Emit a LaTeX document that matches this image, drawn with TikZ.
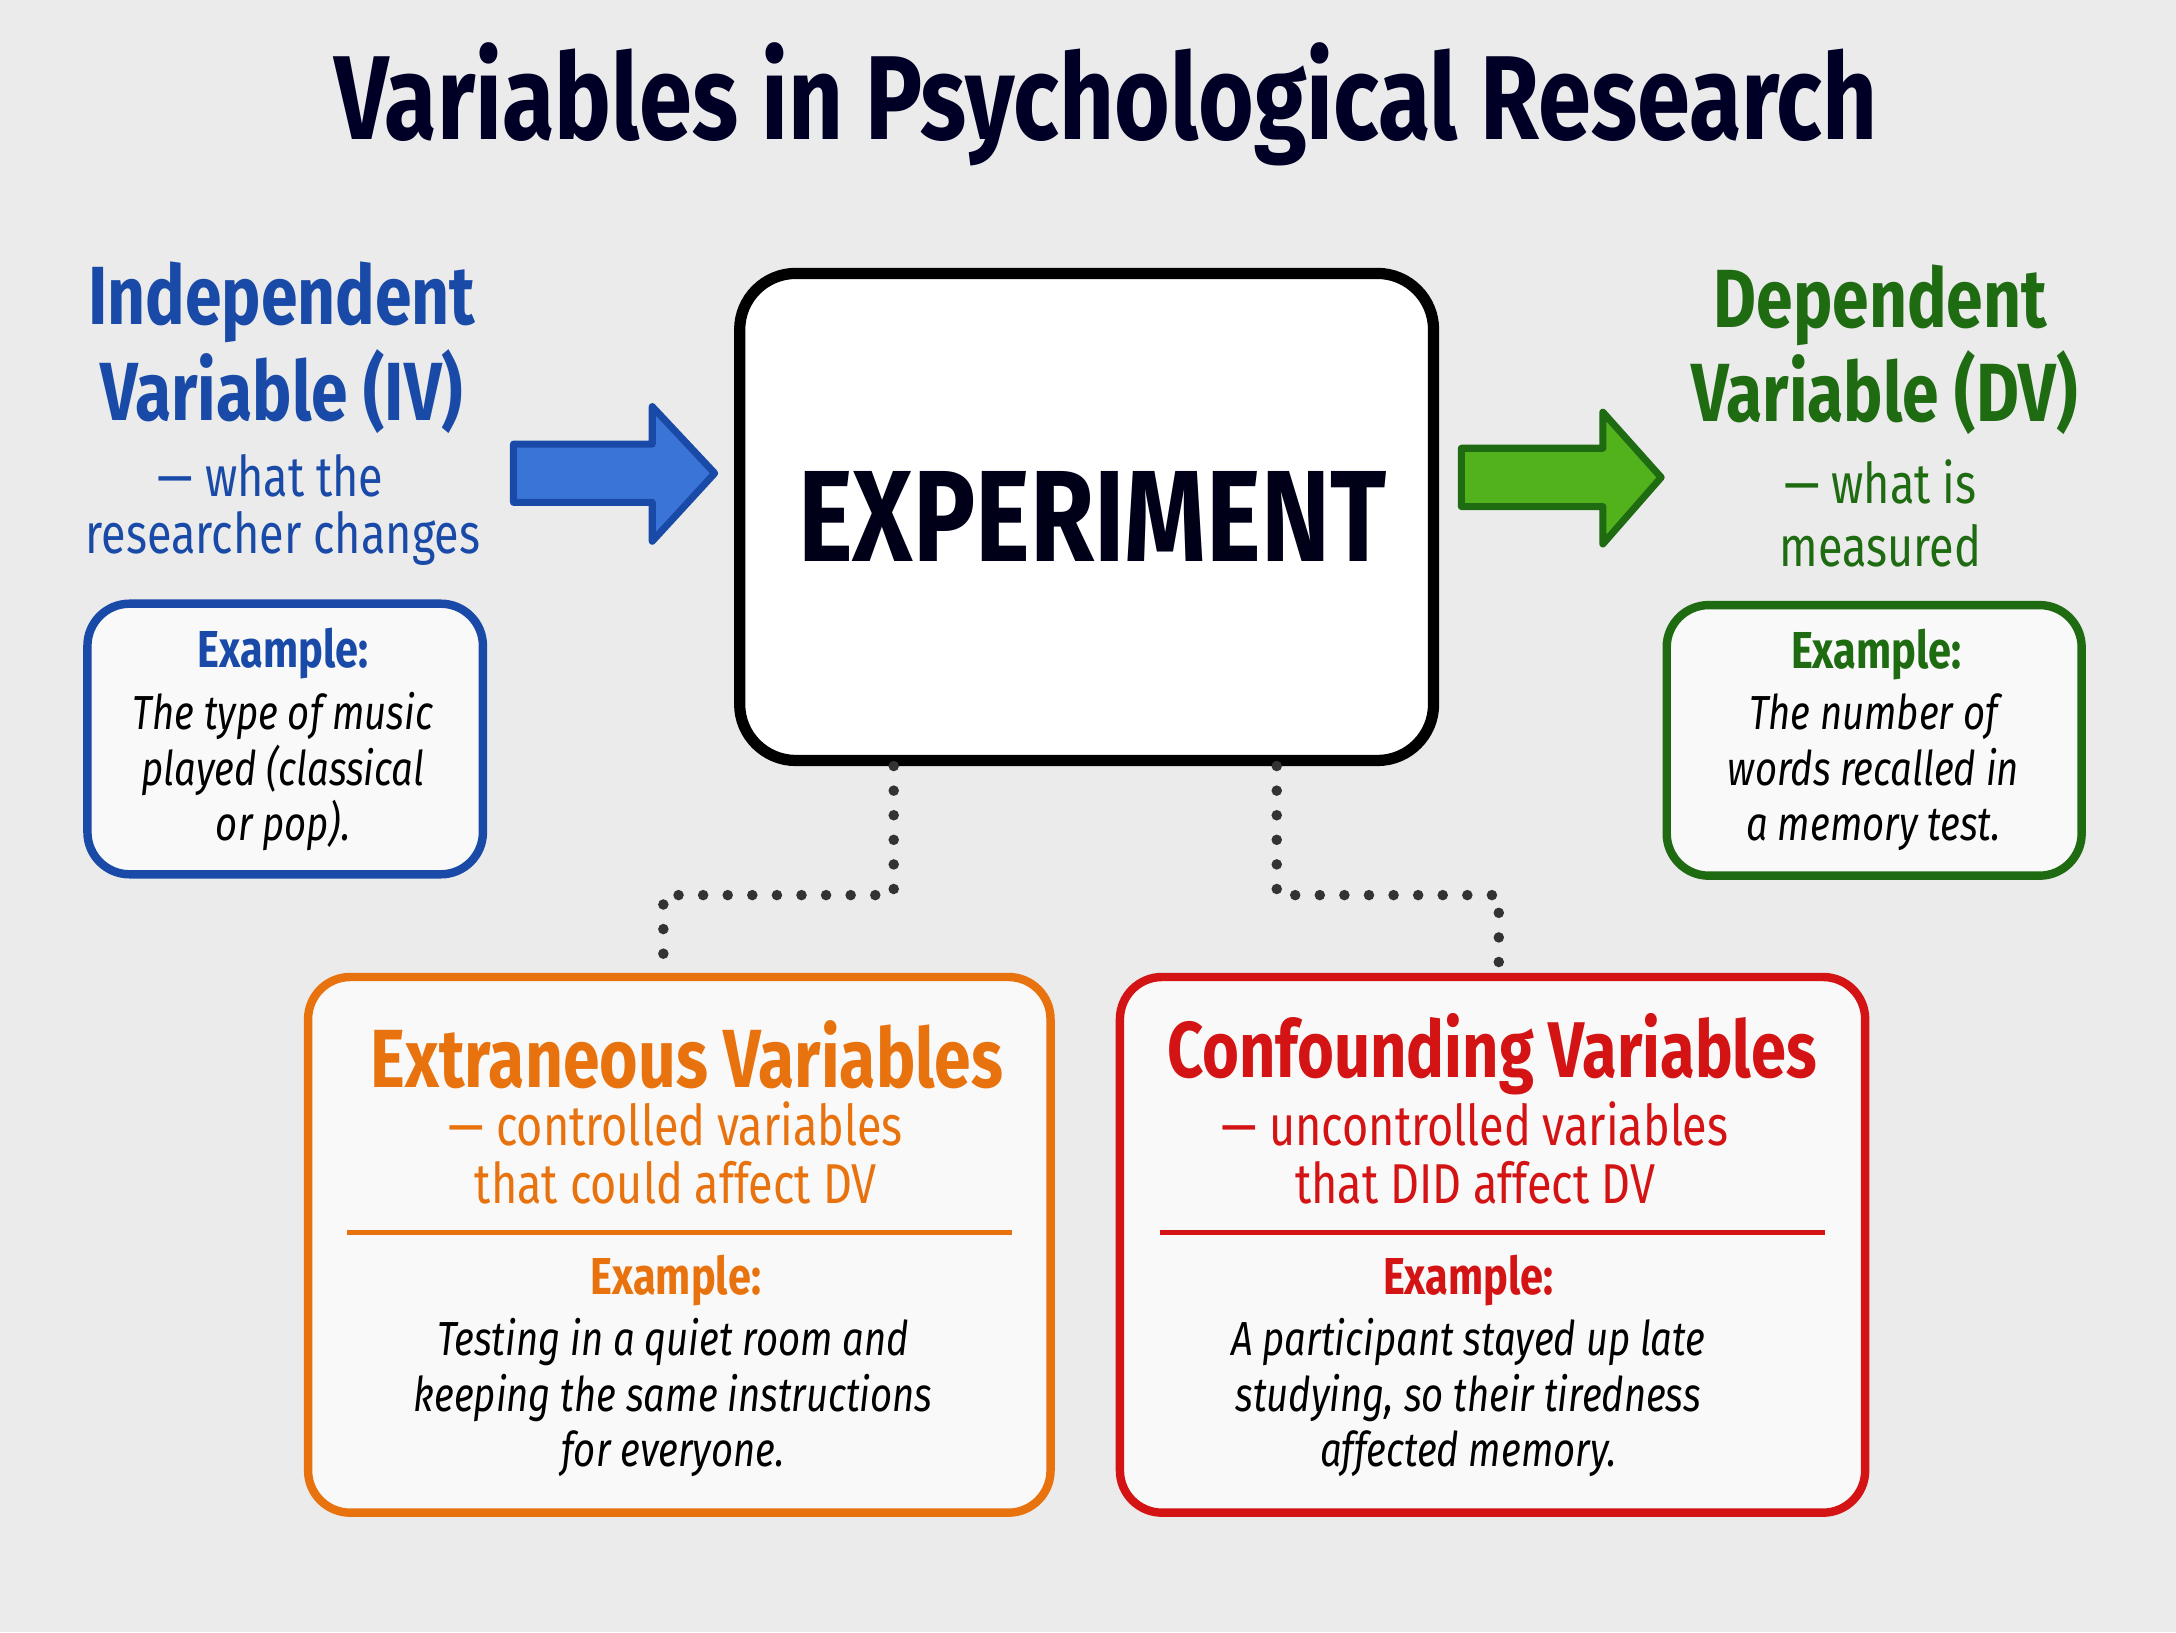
\documentclass[tikz,border=0pt]{standalone}
\usepackage{fontspec}
\setmainfont{Fira Sans}[FakeStretch=0.8]
\usetikzlibrary{positioning}
\definecolor{ivblue}{HTML}{1A4AA8}
\definecolor{ivfill}{HTML}{3A74D6}
\definecolor{dvgreen}{HTML}{1E6B12}
\definecolor{dvfill}{HTML}{52B21C}
\definecolor{evorange}{HTML}{E8730E}
\definecolor{cvred}{HTML}{D41414}
\definecolor{bg}{HTML}{EBEBEB}
\tikzset{
  card/.style={draw=#1, line width=2.4pt, rounded corners=12pt, fill=white!70!bg},
  head/.style={font=\fontsize{23.5}{26}\selectfont\bfseries, text=#1},
  sub/.style={font=\fontsize{16}{16.5}\selectfont, text=#1},
  exlab/.style={font=\fontsize{14.8}{17}\selectfont\bfseries, text=#1},
  extext/.style={font=\fontsize{13.6}{15.8}\selectfont\itshape, align=center},
  link/.style={line width=3pt, dash pattern=on 0pt off 7pt, line cap=round, black!80}
}
\begin{document}
\begin{tikzpicture}[x=0.01388cm, y=-0.01388cm]
  \fill[bg] (0,0) rectangle (1568,1176);
  \useasboundingbox (0,0) rectangle (1568,1176);
  \node[font=\fontsize{34}{38}\selectfont\bfseries, text=black!85!blue] (title) at (797,75) {Variables in Psychological Research};
  % central box
  \draw[line width=3.2pt, rounded corners=16pt, fill=white] (533,197) rectangle (1033,548);
  \node[font=\fontsize{37}{40}\selectfont\bfseries, text=black!90!blue] (exp) at (787,372) {EXPERIMENT};
  \coordinate (expL) at (644,552);
  \coordinate (expR) at (920,552);
  % independent variable
  \node[head=ivblue] (iv1) at (203,218) {Independent};
  \node[head=ivblue] (iv2) at (203,282) {Variable (IV)};
  \node[sub=ivblue] (iv3) at (195,343) {— what the};
  \node[sub=ivblue] (iv4) at (204,388) {researcher changes};
  \draw[card=ivblue] (63,435) rectangle (348,630);
  \node[exlab=ivblue] (ivex) at (204,471) {Example:};
  \node[extext, anchor=north] (ivtxt) at (204,490) {The type of music\\played (classical\\or pop).};
  \draw[ivblue, fill=ivfill, line width=2pt, line join=round]
    (370,320) -- (470,320) -- (470,293) -- (515,341) -- (470,390) -- (470,362) -- (370,362) -- cycle;
  % dependent variable
  \node[head=dvgreen] (dv1) at (1355,220) {Dependent};
  \node[head=dvgreen] (dv2) at (1358,283) {Variable (DV)};
  \node[sub=dvgreen] (dv3) at (1355,347) {— what is};
  \node[sub=dvgreen] (dv4) at (1355,393) {measured};
  \draw[card=dvgreen] (1201,436) rectangle (1500,631);
  \node[exlab=dvgreen] (dvex) at (1352,472) {Example:};
  \node[extext, anchor=north] (dvtxt) at (1350,491) {The number of\\words recalled in\\a memory test.};
  \draw[dvgreen, fill=dvfill, line width=2pt, line join=round]
    (1053,323) -- (1155,323) -- (1155,297) -- (1197,344) -- (1155,392) -- (1155,365) -- (1053,365) -- cycle;
  % extraneous variables
  \draw[card=evorange] (222,704) rectangle (757,1090);
  \node[head=evorange] (ev1) at (495,760) {Extraneous Variables};
  \node[sub=evorange, align=center] (ev2) at (487,831) {— controlled variables\\that could affect DV};
  \draw[evorange, line width=1.6pt] (250,888) -- (729,888);
  \node[exlab=evorange] (evex) at (487,923) {Example:};
  \node[extext, anchor=north] (evtxt) at (485,941) {Testing in a quiet room and\\keeping the same instructions\\for everyone.};
  \coordinate (evtop) at (478,697);
  % confounding variables
  \draw[card=cvred] (807,704) rectangle (1344,1090);
  \node[head=cvred, font=\fontsize{22.5}{25}\selectfont\bfseries] (cv1) at (1075,760) {Confounding Variables};
  \node[sub=cvred, align=center] (cv2) at (1063,831) {— uncontrolled variables\\that DID affect DV};
  \draw[cvred, line width=1.6pt] (836,888) -- (1315,888);
  \node[exlab=cvred] (cvex) at (1058,923) {Example:};
  \node[extext, anchor=north] (cvtxt) at (1058,941) {A participant stayed up late\\studying, so their tiredness\\affected memory.};
  \coordinate (cvtop) at (1080,697);
  % dotted links
  \draw[link] (expL) |- (478,645) -- (evtop);
  \draw[link] (expR) |- (1080,645) -- (cvtop);
\end{tikzpicture}
\end{document}
